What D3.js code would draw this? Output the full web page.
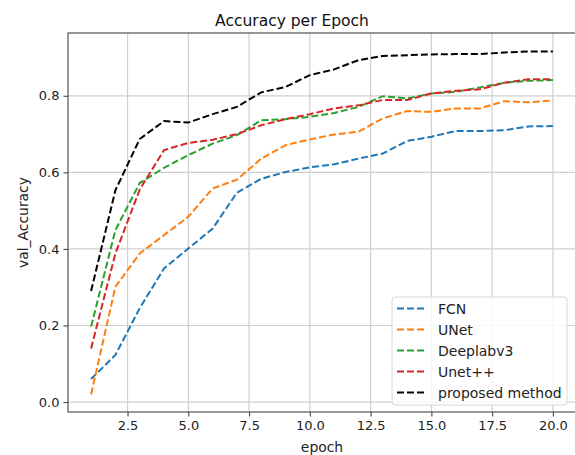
<!DOCTYPE html>
<html>
<head>
<meta charset="utf-8">
<script src="https://cdn.jsdelivr.net/npm/d3@7.9.0/dist/d3.min.js"></script>
<style>
  body { margin: 0; background: #fff; }
  svg { display: block; font-family: "DejaVu Sans", sans-serif; }
</style>
</head>
<body>
<svg id="chart" width="575" height="455"></svg>
<script>
// chart data
const epochs = [1, 2, 3, 4, 5, 6, 7, 8, 9, 10, 11, 12, 13, 14, 15, 16, 17, 18, 19, 20];
const fcn = [0.060, 0.123, 0.245, 0.349, 0.401, 0.453, 0.547, 0.583, 0.601, 0.613, 0.621, 0.636, 0.649, 0.682, 0.693, 0.708, 0.708, 0.710, 0.720, 0.721];
const unet = [0.020, 0.301, 0.388, 0.436, 0.484, 0.558, 0.581, 0.636, 0.671, 0.686, 0.699, 0.706, 0.741, 0.760, 0.758, 0.767, 0.767, 0.786, 0.783, 0.788];
const deeplab = [0.197, 0.449, 0.572, 0.612, 0.645, 0.675, 0.697, 0.736, 0.739, 0.745, 0.755, 0.771, 0.799, 0.793, 0.806, 0.810, 0.822, 0.834, 0.839, 0.841];
const unetpp = [0.140, 0.388, 0.555, 0.658, 0.677, 0.685, 0.700, 0.723, 0.739, 0.752, 0.767, 0.775, 0.789, 0.789, 0.806, 0.813, 0.817, 0.834, 0.843, 0.843];
const proposed = [0.290, 0.553, 0.687, 0.734, 0.730, 0.752, 0.771, 0.809, 0.823, 0.854, 0.869, 0.893, 0.904, 0.906, 0.908, 0.909, 0.909, 0.913, 0.916, 0.916];

const seriesNames = ["FCN", "UNet", "Deeplabv3", "Unet++", "proposed method"];
const seriesValues = [fcn, unet, deeplab, unetpp, proposed];
const seriesColors = ["#1f77b4", "#ff7f0e", "#2ca02c", "#d62728", "#000000"];
const xTicks = [2.5, 5.0, 7.5, 10.0, 12.5, 15.0, 17.5, 20.0];
const yTicks = [0.0, 0.2, 0.4, 0.6, 0.8];

const svg = d3.select("#chart");
const plotLeft = 68, plotRight = 576, plotTop = 33, plotBottom = 412;

const x = d3.scaleLinear().domain([0.05, 20.95]).range([plotLeft, plotRight]);
const y = d3.scaleLinear().domain([-0.026, 0.964]).range([plotBottom, plotTop]);

// grid
const grid = svg.append("g");
grid.selectAll(".gx").data(xTicks).enter().append("line")
    .attr("x1", d => x(d)).attr("x2", d => x(d))
    .attr("y1", plotTop).attr("y2", plotBottom)
    .attr("stroke", "#cfcfcf").attr("stroke-width", 1.2);
grid.selectAll(".gy").data(yTicks).enter().append("line")
    .attr("x1", plotLeft).attr("x2", plotRight)
    .attr("y1", d => y(d)).attr("y2", d => y(d))
    .attr("stroke", "#cfcfcf").attr("stroke-width", 1.2);

// lines
const line = d3.line()
    .x((d, i) => x(epochs[i]))
    .y(d => y(d));

seriesValues.forEach((vals, i) => {
    svg.append("path")
        .datum(vals)
        .attr("d", line)
        .attr("fill", "none")
        .attr("stroke", seriesColors[i])
        .attr("stroke-width", 2)
        .attr("stroke-dasharray", "7,3");
});

// spines
svg.append("rect")
    .attr("x", plotLeft).attr("y", plotTop)
    .attr("width", plotRight - plotLeft).attr("height", plotBottom - plotTop)
    .attr("fill", "none").attr("stroke", "#444").attr("stroke-width", 1.1);

// axes
const xAxis = d3.axisBottom(x).tickValues(xTicks).tickFormat(d3.format(".1f")).tickSize(4.5).tickPadding(4);
const yAxis = d3.axisLeft(y).tickValues(yTicks).tickFormat(d3.format(".1f")).tickSize(4.5).tickPadding(4);

const gx = svg.append("g").attr("transform", `translate(0,${plotBottom})`).call(xAxis);
const gy = svg.append("g").attr("transform", `translate(${plotLeft},0)`).call(yAxis);
[gx, gy].forEach(g => {
    g.select(".domain").remove();
    g.selectAll("line").attr("stroke", "#444").attr("stroke-width", 1.1);
    g.selectAll("text").attr("fill", "#222").style("font-size", "13px")
        .style("font-family", "DejaVu Sans, sans-serif");
});

// title and labels
svg.append("text").attr("x", 292).attr("y", 26)
    .attr("text-anchor", "middle").style("font-size", "15.5px").attr("fill", "#111")
    .text("Accuracy per Epoch");
svg.append("text").attr("x", 322).attr("y", 452)
    .attr("text-anchor", "middle").style("font-size", "13.9px").attr("fill", "#222")
    .text("epoch");
svg.append("text")
    .attr("transform", `translate(28,${(plotTop + plotBottom) / 2}) rotate(-90)`)
    .attr("text-anchor", "middle").style("font-size", "13.9px").attr("fill", "#222")
    .text("val_Accuracy");

// legend
const legend = svg.append("g").attr("transform", "translate(392,297)");
legend.append("rect")
    .attr("width", 175).attr("height", 108).attr("rx", 3)
    .attr("fill", "#fff").attr("fill-opacity", 0.8)
    .attr("stroke", "#d6d6d6").attr("stroke-width", 1);
seriesNames.forEach((name, i) => {
    const ly = 11.5 + i * 21;
    legend.append("line")
        .attr("x1", 5).attr("x2", 34).attr("y1", ly).attr("y2", ly)
        .attr("stroke", seriesColors[i]).attr("stroke-width", 2)
        .attr("stroke-dasharray", "7,3");
    legend.append("text")
        .attr("x", 46).attr("y", ly + 5)
        .style("font-size", "14px").attr("fill", "#222")
        .text(name);
});
</script>
</body>
</html>
